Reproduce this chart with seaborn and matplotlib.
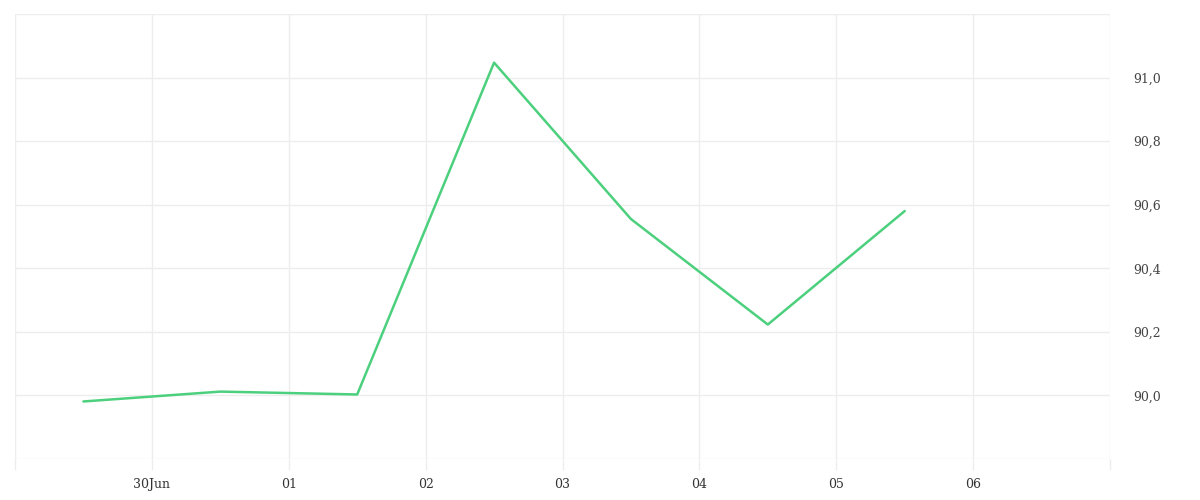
import numpy as np
import pandas as pd
import matplotlib
matplotlib.use("Agg")
import matplotlib.pyplot as plt
import seaborn as sns

# values (one point per day, at noon)
dates = ["2023-06-29 12:00", "2023-06-30 12:00", "2023-07-01 12:00", "2023-07-02 12:00",
         "2023-07-03 12:00", "2023-07-04 12:00", "2023-07-05 12:00"]
values = [89.981, 90.012, 90.003, 91.047, 90.555, 90.223, 90.58]

x_ticks = ["2023-06-29", "2023-06-30", "2023-07-01", "2023-07-02", "2023-07-03",
           "2023-07-04", "2023-07-05", "2023-07-06", "2023-07-07"]
x_labels = ["", "30Jun", "01", "02", "03", "04", "05", "06", ""]
y_ticks = [89.8, 90.0, 90.2, 90.4, 90.6, 90.8, 91.0, 91.2]
y_labels = ["", "90,0", "90,2", "90,4", "90,6", "90,8", "91,0", ""]

sns.set_style("white")
plt.rcParams["font.family"] = ["DejaVu Serif"]

df = pd.DataFrame({"date": pd.to_datetime(dates), "value": values})

fig = plt.figure(figsize=(12, 5), dpi=100)
ax = fig.add_axes([0.0125, 0.082, 0.9125, 0.89])

sns.lineplot(data=df, x="date", y="value", color="#4cd07d", linewidth=1.8, ax=ax)

xt = pd.to_datetime(x_ticks)
ax.set_xlim(xt[0], xt[-1])
ax.set_xticks(xt)
ax.set_xticklabels(x_labels)
ax.set_ylim(89.8, 91.2)
ax.set_yticks(y_ticks)
ax.set_yticklabels(y_labels)

ax.yaxis.tick_right()
ax.grid(True, color="#ededed", linewidth=1)
for s in ax.spines.values():
    s.set_visible(False)

ax.tick_params(axis="x", bottom=True, length=8, width=1, color="#ededed", labelsize=9,
               labelcolor="#333333", pad=6)
ax.tick_params(axis="y", length=0, labelsize=9, labelcolor="#444444", pad=17)
ax.set_xlabel("")
ax.set_ylabel("")

fig.savefig("out.png", dpi=100)
